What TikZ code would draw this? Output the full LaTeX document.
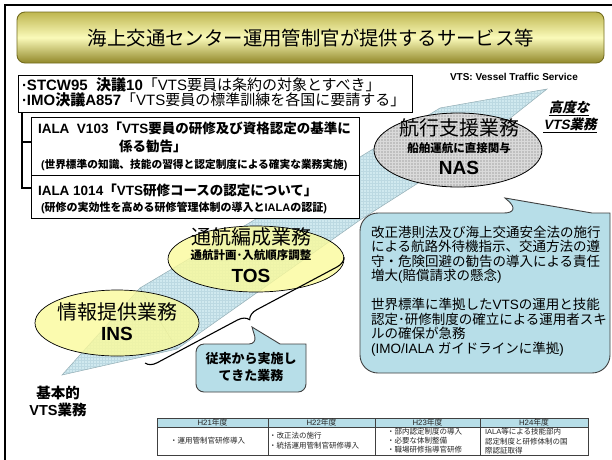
\documentclass[tikz,border=0pt]{standalone}
\usepackage{fontspec}
\setmainfont{Noto Sans CJK JP}
\newfontfamily\lat{Liberation Sans}
\newfontfamily\jpsl{Noto Sans CJK JP}[FakeSlant=0.22]
\newfontfamily\latsl{Liberation Sans}[FakeSlant=0.22]
\usetikzlibrary{shapes.geometric,decorations.pathreplacing}
\newcommand{\fsz}[2]{\fontsize{#1}{#2}\selectfont}
\definecolor{olivedark}{RGB}{115,108,30}
\definecolor{olivetop}{RGB}{190,182,80}
\definecolor{olivemid}{RGB}{250,250,185}
\definecolor{olivebot}{RGB}{145,136,42}
\definecolor{bandblue}{RGB}{208,233,239}
\definecolor{bandgridc}{RGB}{188,217,226}
\definecolor{bandedgec}{RGB}{150,175,182}
\definecolor{callblue}{RGB}{183,222,232}
\definecolor{ellyellow}{RGB}{250,250,155}
\definecolor{nasgray}{RGB}{192,192,192}
\definecolor{nasgridc}{RGB}{218,218,218}
\definecolor{tblhead}{RGB}{183,222,232}
\begin{document}
\begin{tikzpicture}[x=1pt,y=-1pt,
  every node/.style={inner sep=0pt,outer sep=0pt},
  plainbox/.style={rectangle,draw=black,line width=0.9pt,fill=white,anchor=north west},
  yellowell/.style={ellipse,draw=black,line width=0.7pt,fill=ellyellow,fill opacity=0.8},
  grayell/.style={ellipse,draw=black,line width=0.8pt,fill=nasgray,
    path picture={\draw[nasgridc,line width=0.35pt,step=3pt] (path picture bounding box.south west) grid (path picture bounding box.north east);}},
  callout/.style={draw=black!75,line width=0.9pt,fill=callblue},
  tline/.style={draw=black!75,line width=0.6pt},
  thtext/.style={anchor=base,font=\fsz{7.8}{7.8},text=black!85},
  ttext/.style={font=\fsz{7.5}{9.2},text=black!85,align=left,anchor=base west}]
\useasboundingbox (0,0) rectangle (612,459);
\fill[white] (0,0) rectangle (612,459);

% outer frame
\draw[line width=2.5pt] (5,470) -- (5,5) -- (620,5);

% title
\draw[rounded corners=8pt,draw=olivedark,line width=0.9pt,top color=olivetop,bottom color=olivebot,middle color=olivemid] (17,12) rectangle (604,63);
\node[anchor=base,font=\fsz{19.4}{19.4}] (title) at (311,45.4) {海上交通センター運用管制官が提供するサービス等};

% diagonal band
\coordinate (bA) at (62,375);
\coordinate (bB) at (140,288);
\coordinate (bC) at (360,157);
\coordinate (bE) at (440,108);
\coordinate (bT) at (547,89);
\coordinate (bF) at (470,150);
\coordinate (bG) at (360,220);
\coordinate (bD) at (177,349);
\path[fill=bandblue,path picture={\draw[bandgridc,line width=0.35pt,step=3pt] (path picture bounding box.south west) grid (path picture bounding box.north east);}]
  (bA) -- (bB) -- (bC) -- (bE) -- (bT) -- (bF) -- (bG) -- (bD) -- cycle;
\draw[bandedgec,line width=0.5pt] (bA) -- (bB) -- (bC) -- (bE) -- (bT) -- (bF) -- (bG) -- (bD) -- cycle;
\draw[bandedgec,line width=0.5pt] (bB) -- (bD);

% VTS box and IALA boxes
\node[plainbox,minimum width=394pt,minimum height=37pt] (vts) at (18,75) {};
\node[plainbox,minimum width=328pt,minimum height=58pt] (v103) at (31,117) {};
\node[plainbox,minimum width=328pt,minimum height=43pt] (i1014) at (31,175) {};
\coordinate (bk0) at (22,112);
\coordinate (bk1) at (22,142);
\coordinate (bk2) at (22,188);
\draw[line width=1.4pt] (bk0) -- (bk2) -- (bk2 -| v103.west);
\draw[line width=1.4pt] (bk1) -- (bk1 -| v103.west);

\node[anchor=base west,font=\fsz{15}{15}] (vts1) at (22,90.2) {\bfseries{\lat ·STCW95\ \ }決議{\lat 10}\mdseries「{\lat VTS}要員は条約の対象とすべき」};
\node[anchor=base west,font=\fsz{15}{15}] (vts2) at (22,105.2) {\bfseries{\lat ·IMO}決議{\lat A857}\mdseries「{\lat VTS}要員の標準訓練を各国に要請する」};

\node[anchor=base west,font=\fsz{13.5}{13.5}\bfseries] (v1031) at (38,133.1) {{\lat IALA\ \ V103}「{\lat VTS}要員の研修及び資格認定の基準に};
\node[anchor=base west,font=\fsz{13.5}{13.5}\bfseries] (v1032) at (119,151.1) {係る勧告」};
\node[anchor=base west,font=\fsz{10.7}{10.7}\bfseries] (v1033) at (41,168.1) {{\lat (}世界標準の知識、技能の習得と認定制度による確実な業務実施{\lat )}};
\node[anchor=base west,font=\fsz{13.5}{13.5}\bfseries] (i10141) at (38,195.1) {{\lat IALA\ 1014}「{\lat VTS}研修コースの認定について」};
\node[anchor=base west,font=\fsz{11}{11}\bfseries] (i10142) at (41,211.2) {{\lat (}研修の実効性を高める研修管理体制の導入と{\lat IALA}の認証{\lat )}};

% VTS legend
\node[anchor=base west,font=\lat\fsz{10}{10}\bfseries] (legend) at (450,80.6) {VTS: Vessel Traffic Service};

% ellipses
\node[grayell,minimum width=168pt,minimum height=74pt] (nas) at (458,150) {};
\node[anchor=base,font=\fsz{20}{20}] (nas1) at (459,135.6) {航行支援業務};
\node[anchor=base,font=\fsz{11.5}{11.5}\bfseries] (nas2) at (459,152.4) {船舶運航に直接関与};
\node[anchor=base,font=\lat\fsz{19}{19}\bfseries] (nas3) at (459,174) {NAS};

\node[yellowell,minimum width=176pt,minimum height=66pt] (tos) at (256,259) {};
\node[anchor=base,font=\fsz{20}{20}] (tos1) at (251,244.6) {通航編成業務};
\node[anchor=base,font=\fsz{11.5}{11.5}\bfseries] (tos2) at (251,259.4) {通航計画･入航順序調整};
\node[anchor=base,font=\lat\fsz{19}{19}\bfseries] (tos3) at (251,282) {TOS};

\node[yellowell,minimum width=164pt,minimum height=66pt] (ins) at (117,323) {};
\node[anchor=base,font=\fsz{20}{20}] (ins1) at (117,319.6) {情報提供業務};
\node[anchor=base,font=\lat\fsz{19}{19}\bfseries] (ins2) at (117,340) {INS};

% brace
\coordinate (brA) at (344,257);
\coordinate (brB) at (145,363);
\draw[decorate,decoration={brace,amplitude=11pt},line width=1.1pt] (brA) -- (brB);

% small callout
\coordinate (tipS) at (252,327);
\draw[callout] (196,368) [rounded corners=8pt] -- (196,344) -- (257,344) [sharp corners] -- (tipS) -- (280,344) -- (306,344) [rounded corners=8pt] -- (306,392) -- (196,392) -- cycle;
\node[anchor=base,font=\fsz{13}{13}\bfseries] (sc1) at (251,363) {従来から実施し};
\node[anchor=base,font=\fsz{13}{13}\bfseries] (sc2) at (251,380) {てきた業務};

% big callout
\coordinate (tipB) at (505,198);
\draw[callout] (360,290) [rounded corners=18pt] -- (360,213) -- (522,213) [sharp corners] -- (tipB) -- (592,213) -- (610,213) [rounded corners=18pt] -- (610,373) -- (360,373) -- cycle;
\node[anchor=base west,align=left,font=\fsz{13.5}{14.5}] (bcA) at (371,280.6) {改正港則法及び海上交通安全法の施行\\
による航路外待機指示、交通方法の遵\\
守・危険回避の勧告の導入による責任\\
増大{\lat (}賠償請求の懸念{\lat )}};
\node[anchor=base west,align=left,font=\fsz{13.5}{14.5}] (bcB) at (371,353.1) {世界標準に準拠した{\lat VTS}の運用と技能\\
認定･研修制度の確立による運用者スキ\\
ルの確保が急務\\
{\lat (IMO/IALA }ガイドラインに準拠{\lat )}};

% side labels
\node[anchor=base,font=\jpsl\fsz{13.5}{13.5}\bfseries] (adv1) at (569,112.1) {\underline{高度な}};
\node[anchor=base,font=\jpsl\fsz{13.5}{13.5}\bfseries] (adv2) at (570,129.1) {\underline{{\latsl VTS}業務}};
\node[anchor=base,font=\fsz{14.5}{14.5}\bfseries] (bas1) at (58,398.5) {基本的};
\node[anchor=base,font=\fsz{14.5}{14.5}\bfseries] (bas2) at (58,415.5) {{\lat VTS}業務};

% table
\draw[tline,fill=tblhead] (157,418) rectangle (588,427);
\draw[tline] (157,427) rectangle (588,455);
\foreach \xx in {268,375,480} \draw[tline] (\xx,418) -- (\xx,455);
\node[thtext] (h21) at (212.5,425.4) {{\lat H21}年度};
\node[thtext] (h22) at (321.5,425.4) {{\lat H22}年度};
\node[thtext] (h23) at (427.5,425.4) {{\lat H23}年度};
\node[thtext] (h24) at (534,425.4) {{\lat H24}年度};
\node[ttext] (c1) at (170,443.9) {・運用管制官研修導入};
\node[ttext,font=\fsz{7.5}{10}] (c2) at (269,448.9) {・改正法の施行\\・統括運用管制官研修導入};
\node[ttext] (c3) at (387,452.9) {・部内認定制度の導入\\・必要な体制整備\\・職場研修指導官研修};
\node[ttext,font=\fsz{7.5}{9.5}] (c4) at (485,453.6) {{\lat IALA}等による技能部内\\認定制度と研修体制の国\\際認証取得};
\end{tikzpicture}
\end{document}
